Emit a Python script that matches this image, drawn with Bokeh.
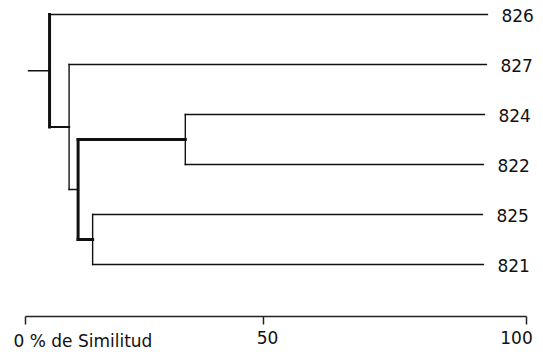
from bokeh.plotting import figure
from bokeh.models import Range1d, ColumnDataSource
from bokeh.embed import file_html
from bokeh.resources import INLINE
from bokeh.core.properties import value

# ---- data ----
# leaves, listed top to bottom
LEAVES = ["826", "827", "824", "822", "825", "821"]
# % similitude where each leaf's branch ends
LEAF_END = [92.2, 92.0, 91.6, 91.4, 91.2, 91.4]

# merges (left child, right child, % similitude of the join)
MERGE_NAMES = ["C", "D", "B", "A", "R"]
MERGE_LEFT = ["824", "825", "C", "827", "826"]
MERGE_RIGHT = ["822", "821", "D", "B", "A"]
MERGE_SIM = [31.9, 13.4, 10.5, 8.7, 4.8]
ROOT_START = 0.6

TICKS = [0, 47.5, 100]
TICK_LABELS = ["0 % de Similitud", "50", "100"]

# ---- styles ----
THICK_VERTICAL = {"R": 3.0, "B": 3.0}
THICK_HORIZONTAL = {"C": 3.0, "D": 3.0, "A": 2.2}
THIN = 1.4
LINE_COLOR = "#111111"
FONT = "DejaVu Sans"
FONT_SIZE = "17px"

# ---- geometry of the dendrogram from the data ----
ypos = {name: i for i, name in enumerate(LEAVES)}
xpos = {name: LEAF_END[i] for i, name in enumerate(LEAVES)}
for name, l, r, s in zip(MERGE_NAMES, MERGE_LEFT, MERGE_RIGHT, MERGE_SIM):
    ypos[name] = (ypos[l] + ypos[r]) / 2
    xpos[name] = s

x0, y0, x1, y1, lw = [], [], [], [], []
for name, l, r, s in zip(MERGE_NAMES, MERGE_LEFT, MERGE_RIGHT, MERGE_SIM):
    # vertical joining the two children
    x0.append(s); y0.append(ypos[l]); x1.append(s); y1.append(ypos[r])
    lw.append(THICK_VERTICAL.get(name, THIN))
    # horizontals out to each child
    for c in (l, r):
        x0.append(s); y0.append(ypos[c]); x1.append(xpos[c]); y1.append(ypos[c])
        lw.append(THICK_HORIZONTAL.get(c, THIN))
# root stub
root = MERGE_NAMES[-1]
x0.append(ROOT_START); y0.append(ypos[root]); x1.append(xpos[root]); y1.append(ypos[root])
lw.append(THIN)

seg_src = ColumnDataSource(dict(x0=x0, y0=y0, x1=x1, y1=y1, lw=lw))

W, H = 535, 352
PX_PER_PCT = 5.01
X_ORIGIN = 25      # px of 0 %
ROW_PX = 50
Y_ORIGIN = 14      # px of first leaf
p = figure(width=W, height=H, output_backend="svg", toolbar_location=None,
           x_axis_type=None, y_axis_type=None, min_border=0,
           x_range=Range1d(-X_ORIGIN / PX_PER_PCT, (W - X_ORIGIN) / PX_PER_PCT),
           y_range=Range1d((H - Y_ORIGIN) / ROW_PX, -Y_ORIGIN / ROW_PX))
p.outline_line_color = None
p.grid.visible = False
p.background_fill_color = "white"
p.border_fill_color = "white"

p.segment(x0="x0", y0="y0", x1="x1", y1="y1", line_width="lw",
          line_color=LINE_COLOR, line_cap="square", source=seg_src)

# leaf labels
p.text(x=LEAF_END, y=list(range(len(LEAVES))), text=LEAVES,
       x_offset=14, y_offset=1, text_align="left", text_baseline="middle",
       text_font=value(FONT), text_font_size=FONT_SIZE, text_color="#111111")

# similarity axis
AXIS_Y = 6.04
TICK_LEN = 0.16
LABEL_Y = 6.33
p.segment(x0=[TICKS[0]], y0=[AXIS_Y], x1=[TICKS[-1]], y1=[AXIS_Y],
          line_color="#222222", line_width=1.5)
p.segment(x0=TICKS, y0=[AXIS_Y] * len(TICKS), x1=TICKS,
          y1=[AXIS_Y + TICK_LEN] * len(TICKS), line_color="#222222", line_width=1.5)
label_dx = [-12, 4, -10]
label_align = ["left", "center", "center"]
for t, lab, dx, al in zip(TICKS, TICK_LABELS, label_dx, label_align):
    p.text(x=[t], y=[LABEL_Y], text=[lab], x_offset=dx, text_align=al,
           text_baseline="top", text_font=value(FONT),
           text_font_size=FONT_SIZE, text_color="#111111")

open("out.html", "w").write(file_html(p, INLINE))
